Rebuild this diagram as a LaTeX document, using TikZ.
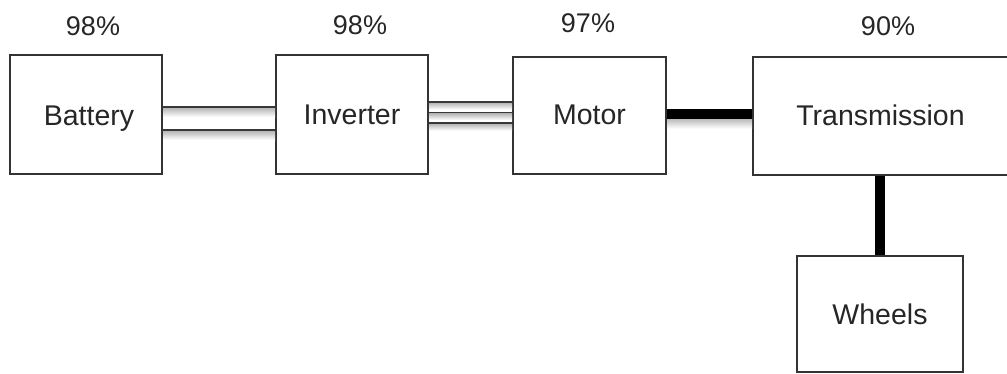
\documentclass[tikz,border=0pt]{standalone}
\usepackage{fontspec}
\setmainfont{Liberation Sans}
\begin{document}
\begin{tikzpicture}[x=1pt,y=-1pt,
  box/.style={draw=black!80, line width=2pt, fill=white, inner sep=0pt,
              font=\fontsize{28.5}{34}\selectfont, text=black!85},
  pct/.style={font=\fontsize{27}{32}\selectfont, text=black!85, inner sep=0pt},
  wire/.style={draw=black!78, line width=1.6pt},
  shaft/.style={draw=black, line width=10pt},
  shadowband/.style={top color=black!28, bottom color=white, draw=none}]
\useasboundingbox (0,0) rectangle (1007,373);
\clip (0,0) rectangle (1007,373);
% boxes
\node[box, minimum width=152pt, minimum height=119pt] (bat) at (86,114.5) {\hspace*{6pt}\raisebox{-10.5pt}[0pt][0pt]{Battery}};
\node[box, minimum width=152pt, minimum height=119pt] (inv) at (352,114.5) {Inverter};
\node[box, minimum width=153pt, minimum height=117pt] (mot) at (589.5,115) {Motor};
\node[box, minimum width=255pt, minimum height=118pt] (tra) at (880.5,115.5) {Transmission};
\node[box, minimum width=166pt, minimum height=116pt] (whe) at (880,314) {Wheels};
% percentages
\node[pct] (pbat) at (93,26) {98\%};
\node[pct] (pinv) at (360,25) {98\%};
\node[pct] (pmot) at (588,23) {97\%};
\node[pct] (ptra) at (888,26) {90\%};
% battery -> inverter (two wires)
\shade[shadowband] ([yshift=6.5pt]bat.east) rectangle ([yshift=-2.5pt]inv.west);
\shade[shadowband] ([yshift=-16.5pt]bat.east) rectangle ([yshift=-25.5pt]inv.west);
\draw[wire] ([yshift=7.5pt]bat.east) -- ([yshift=7.5pt]inv.west);
\draw[wire] ([yshift=-15.5pt]bat.east) -- ([yshift=-15.5pt]inv.west);
% inverter -> motor (three wires)
\shade[shadowband] ([yshift=11.5pt]inv.east) rectangle ([yshift=5.5pt]mot.west);
\shade[shadowband] ([yshift=1pt]inv.east) rectangle ([yshift=-5pt]mot.west);
\shade[shadowband] ([yshift=-9.5pt]inv.east) rectangle ([yshift=-15.5pt]mot.west);
\draw[wire] ([yshift=12.5pt]inv.east) -- ([yshift=13pt]mot.west);
\draw[wire] ([yshift=2pt]inv.east) -- ([yshift=2.5pt]mot.west);
\draw[wire] ([yshift=-8.5pt]inv.east) -- ([yshift=-8pt]mot.west);
% motor -> transmission (shaft)
\shade[shadowband] ([yshift=-3.5pt]mot.east) rectangle ([yshift=-13pt]tra.west);
\draw[shaft] ([yshift=1.5pt]mot.east) -- ([yshift=2pt]tra.west);
% transmission -> wheels (shaft)
\draw[shaft] (whe.north |- tra.south) -- (whe.north);
\end{tikzpicture}
\end{document}
